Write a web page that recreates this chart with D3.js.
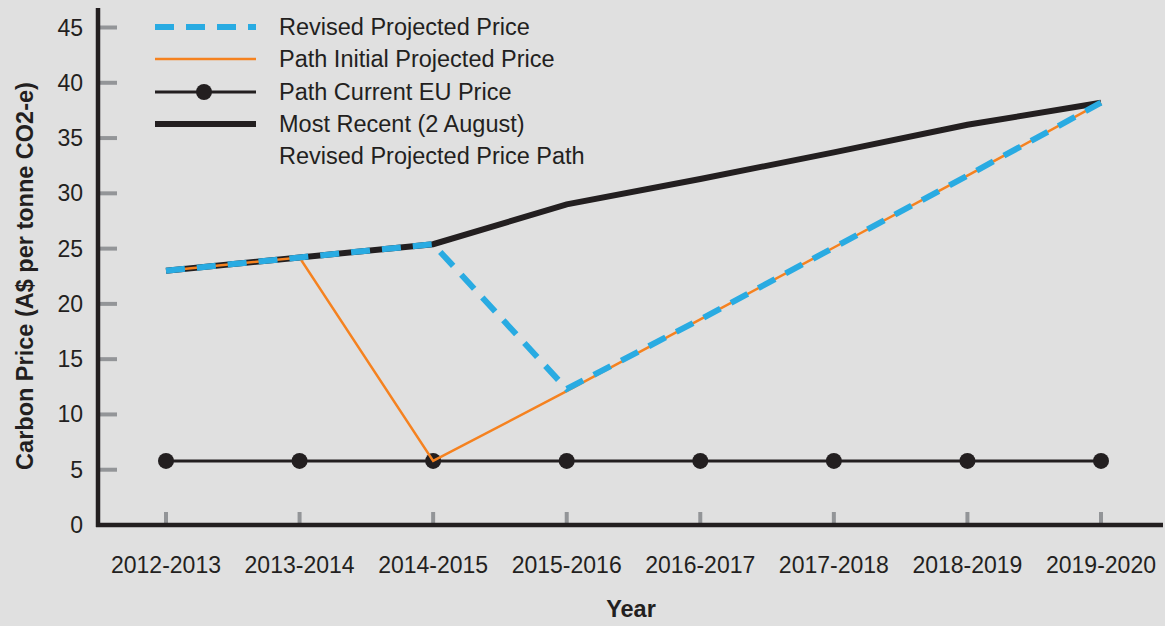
<!DOCTYPE html>
<html>
<head>
<meta charset="utf-8">
<script src="https://cdn.jsdelivr.net/npm/d3@7"></script>
<style>
  body { margin: 0; background: #e0e0e0; }
  svg { display: block; font-family: "Liberation Sans", Arial, sans-serif; }
</style>
</head>
<body>
<svg id="chart"></svg>
<script>
var width = 1165, height = 626;

var years = ["2012-2013", "2013-2014", "2014-2015", "2015-2016", "2016-2017", "2017-2018", "2018-2019", "2019-2020"];
var revised = [23, 24.2, 25.4, 12.3, 18.6, 25.1, 31.6, 38.2];
var initial = [23, 24.2, 5.8, 12.1, 18.6, 25.1, 31.6, 38.2];
var currentEU = [5.8, 5.8, 5.8, 5.8, 5.8, 5.8, 5.8, 5.8];
var mostRecent = [23, 24.2, 25.4, 29, 31.3, 33.7, 36.2, 38.2];
var yTicks = [0, 5, 10, 15, 20, 25, 30, 35, 40, 45];

var svg = d3.select("#chart")
    .attr("width", width)
    .attr("height", height);

svg.append("rect")
    .attr("width", width)
    .attr("height", height)
    .attr("fill", "#e0e0e0");

var x = d3.scalePoint()
    .domain(years)
    .range([166, 1101]);

var y = d3.scaleLinear()
    .domain([0, 45])
    .range([525, 27.5]);

var ink = "#231f20";

// y ticks (gray marks inside plot) + labels
svg.selectAll(".ytick")
    .data(yTicks.filter(function(d){ return d > 0; }))
    .enter().append("line")
    .attr("x1", 100).attr("x2", 117)
    .attr("y1", function(d){ return y(d); })
    .attr("y2", function(d){ return y(d); })
    .attr("stroke", "#939598")
    .attr("stroke-width", 4);

svg.selectAll(".ylab")
    .data(yTicks)
    .enter().append("text")
    .attr("x", 83)
    .attr("y", function(d){ return y(d); })
    .attr("dy", "0.35em")
    .attr("text-anchor", "end")
    .attr("font-size", 23)
    .attr("fill", ink)
    .text(function(d){ return d; });

// x ticks
svg.selectAll(".xtick")
    .data(years)
    .enter().append("line")
    .attr("x1", function(d){ return x(d); })
    .attr("x2", function(d){ return x(d); })
    .attr("y1", 512).attr("y2", 525)
    .attr("stroke", "#939598")
    .attr("stroke-width", 4);

svg.selectAll(".xlab")
    .data(years)
    .enter().append("text")
    .attr("x", function(d){ return x(d); })
    .attr("y", 573)
    .attr("text-anchor", "middle")
    .attr("font-size", 23)
    .attr("fill", ink)
    .text(function(d){ return d; });

// axis lines
svg.append("line")
    .attr("x1", 98).attr("x2", 98)
    .attr("y1", 8).attr("y2", 527)
    .attr("stroke", ink).attr("stroke-width", 4.5);
svg.append("line")
    .attr("x1", 96).attr("x2", 1163)
    .attr("y1", 525).attr("y2", 525)
    .attr("stroke", ink).attr("stroke-width", 4.5);

// axis titles
svg.append("text")
    .attr("transform", "translate(33,276) rotate(-90)")
    .attr("text-anchor", "middle")
    .attr("font-size", 23.5)
    .attr("font-weight", "bold")
    .attr("fill", ink)
    .text("Carbon Price (A$ per tonne CO2-e)");

svg.append("text")
    .attr("x", 631).attr("y", 617)
    .attr("text-anchor", "middle")
    .attr("font-size", 23.5)
    .attr("font-weight", "bold")
    .attr("fill", ink)
    .text("Year");

var line = d3.line()
    .x(function(d, i){ return x(years[i]); })
    .y(function(d){ return y(d); });

// current EU price
svg.append("path")
    .datum(currentEU)
    .attr("d", line)
    .attr("fill", "none")
    .attr("stroke", ink)
    .attr("stroke-width", 3);
svg.selectAll(".eu")
    .data(currentEU)
    .enter().append("circle")
    .attr("cx", function(d, i){ return x(years[i]); })
    .attr("cy", function(d){ return y(d); })
    .attr("r", 8)
    .attr("fill", ink);

// most recent
svg.append("path")
    .datum(mostRecent)
    .attr("d", line)
    .attr("fill", "none")
    .attr("stroke", ink)
    .attr("stroke-width", 6);

// initial projected
svg.append("path")
    .datum(initial)
    .attr("d", line)
    .attr("fill", "none")
    .attr("stroke", "#f58220")
    .attr("stroke-width", 2.5);

// revised projected
svg.append("path")
    .datum(revised)
    .attr("d", line)
    .attr("fill", "none")
    .attr("stroke", "#29abe2")
    .attr("stroke-width", 6)
    .attr("stroke-dasharray", "19,12");

// legend
var legend = [
    {label: "Revised Projected Price", color: "#29abe2", w: 6, dash: "19,12", dot: false, y: 27},
    {label: "Path Initial Projected Price", color: "#f58220", w: 2.5, dash: null, dot: false, y: 59},
    {label: "Path Current EU Price", color: ink, w: 3, dash: null, dot: true, y: 92},
    {label: "Most Recent (2 August)", color: ink, w: 6, dash: null, dot: false, y: 124}
];
var lg = svg.selectAll(".legend")
    .data(legend)
    .enter().append("g");
lg.append("line")
    .attr("x1", 155).attr("x2", 256)
    .attr("y1", function(d){ return d.y; })
    .attr("y2", function(d){ return d.y; })
    .attr("stroke", function(d){ return d.color; })
    .attr("stroke-width", function(d){ return d.w; })
    .attr("stroke-dasharray", function(d){ return d.dash; });
lg.filter(function(d){ return d.dot; }).append("circle")
    .attr("cx", 204)
    .attr("cy", function(d){ return d.y; })
    .attr("r", 8)
    .attr("fill", ink);
lg.append("text")
    .attr("x", 279)
    .attr("y", function(d){ return d.y; })
    .attr("dy", "0.35em")
    .attr("font-size", 23.5)
    .attr("fill", ink)
    .text(function(d){ return d.label; });
svg.append("text")
    .attr("x", 279).attr("y", 156)
    .attr("dy", "0.35em")
    .attr("font-size", 23.5)
    .attr("fill", ink)
    .text("Revised Projected Price Path");
</script>
</body>
</html>
